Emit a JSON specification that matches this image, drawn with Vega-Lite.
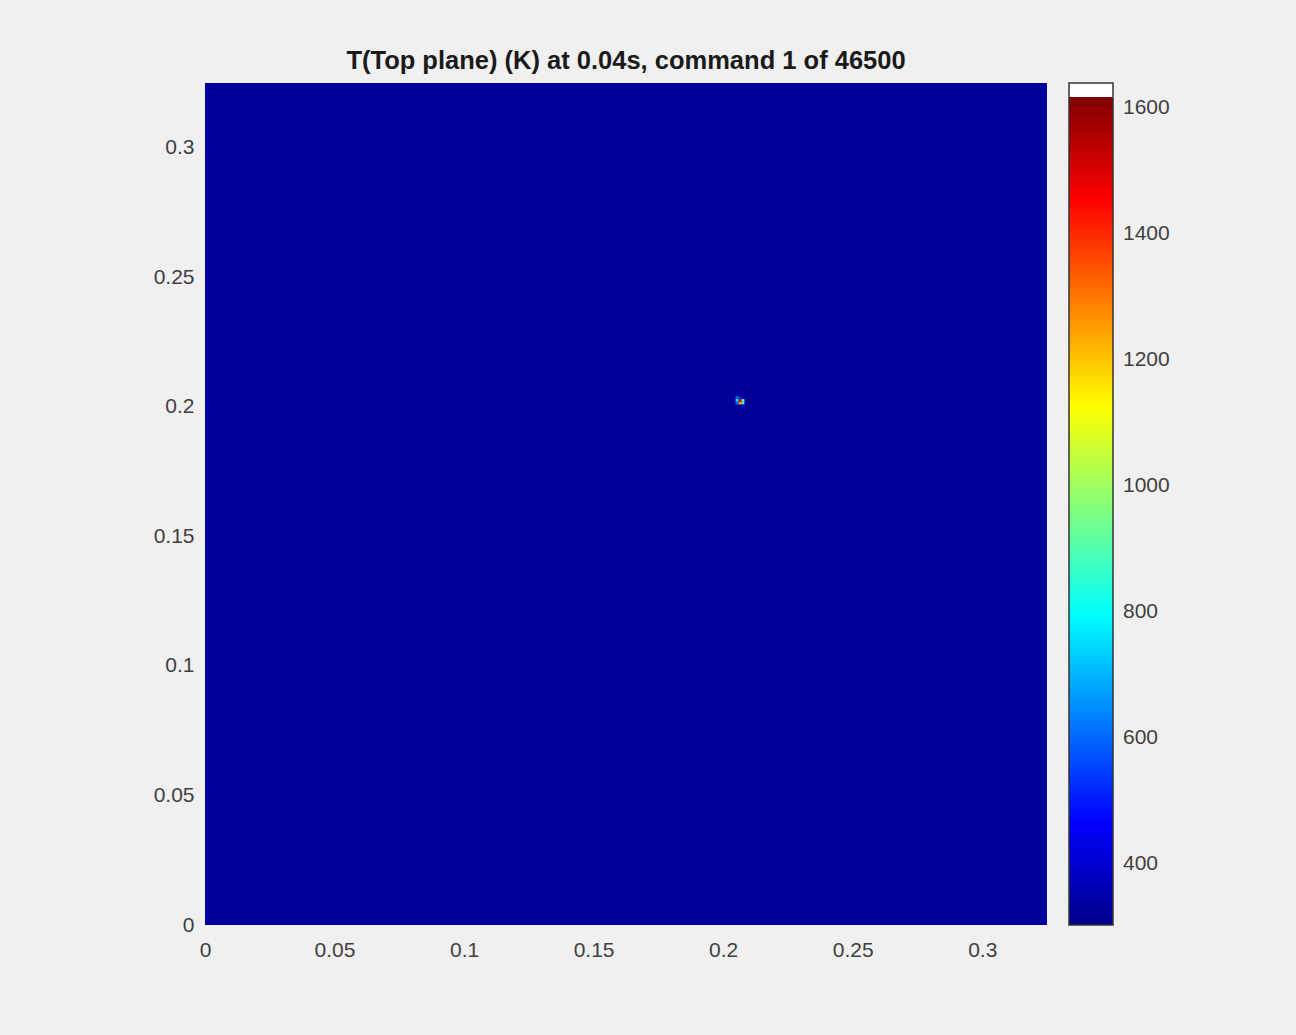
{
  "$schema": "https://vega.github.io/schema/vega-lite/v6.json",
  "autosize": {"type": "none"},
  "padding": {"left": 205, "top": 83, "right": 249, "bottom": 110},
  "width": 842,
  "height": 842,
  "background": "#f0f0f0",
  "config": {"view": {"stroke": null}},
  "title": {
    "text": "T(Top plane) (K) at 0.04s, command 1 of 46500",
    "font": "Liberation Sans",
    "fontSize": 25.5,
    "fontWeight": "bold",
    "color": "#1a1a1a",
    "anchor": "middle",
    "offset": 9
  },
  "data": {
    "values": [
      {"x0": 0, "x1": 0.325, "y0": 0, "y1": 0.325, "T": 324},
      {"x0": 0.2048, "x1": 0.2060, "y0": 0.2030, "y1": 0.2041, "T": 560},
      {"x0": 0.2060, "x1": 0.2071, "y0": 0.2030, "y1": 0.2041, "T": 480},
      {"x0": 0.2048, "x1": 0.2060, "y0": 0.2020, "y1": 0.2030, "T": 780},
      {"x0": 0.2060, "x1": 0.2071, "y0": 0.2020, "y1": 0.2030, "T": 1500},
      {"x0": 0.2071, "x1": 0.2082, "y0": 0.2020, "y1": 0.2030, "T": 1000},
      {"x0": 0.2048, "x1": 0.2060, "y0": 0.2009, "y1": 0.2020, "T": 540},
      {"x0": 0.2060, "x1": 0.2071, "y0": 0.2009, "y1": 0.2020, "T": 1300},
      {"x0": 0.2071, "x1": 0.2082, "y0": 0.2009, "y1": 0.2020, "T": 950},
      {"x0": 0.2071, "x1": 0.2082, "y0": 0.1998, "y1": 0.2009, "T": 450}
    ]
  },
  "mark": {"type": "rect"},
  "encoding": {
    "x": {
      "field": "x0", "type": "quantitative",
      "scale": {"domain": [0, 0.325], "nice": false, "zero": false},
      "axis": {
        "title": null, "values": [0, 0.05, 0.1, 0.15, 0.2, 0.25, 0.3], "format": "~g",
        "grid": false, "domain": false, "ticks": false, "tickSize": 0,
        "labelPadding": 14, "labelFont": "Liberation Sans", "labelFontSize": 21,
        "labelColor": "#404040", "labelFlush": false
      }
    },
    "x2": {"field": "x1"},
    "y": {
      "field": "y0", "type": "quantitative",
      "scale": {"domain": [0, 0.325], "nice": false, "zero": false},
      "axis": {
        "title": null, "values": [0, 0.05, 0.1, 0.15, 0.2, 0.25, 0.3], "format": "~g",
        "grid": false, "domain": false, "ticks": false, "tickSize": 0,
        "labelPadding": 11, "labelFont": "Liberation Sans", "labelFontSize": 21,
        "labelColor": "#404040", "labelFlush": false
      }
    },
    "y2": {"field": "y1"},
    "color": {
      "field": "T", "type": "quantitative",
      "scale": {
        "type": "linear",
        "domain": [303, 467, 796, 1125, 1454, 1618, 1619, 1640],
        "range": ["#00008a", "#0000ff", "#00ffff", "#ffff00", "#ff0000", "#800000", "#ffffff", "#ffffff"],
        "clamp": true
      },
      "legend": {
        "title": null,
        "orient": "none",
        "legendX": 864,
        "legendY": 0,
        "direction": "vertical",
        "gradientLength": 842,
        "gradientThickness": 44,
        "gradientStrokeColor": "#333333",
        "gradientStrokeWidth": 1.5,
        "values": [400, 600, 800, 1000, 1200, 1400, 1600],
        "format": "d",
        "labelFont": "Liberation Sans",
        "labelFontSize": 21,
        "labelColor": "#404040",
        "labelOffset": 10,
        "labelOverlap": false,
        "encode": {
          "gradient": {
            "update": {
              "fill": {
                "value": {
                  "gradient": "linear", "x1": 0, "y1": 1, "x2": 0, "y2": 0,
                  "stops": [
                    {"offset": 0, "color": "#00008a"},
                    {"offset": 0.1227, "color": "#0000ff"},
                    {"offset": 0.3687, "color": "#00ffff"},
                    {"offset": 0.6148, "color": "#ffff00"},
                    {"offset": 0.8609, "color": "#ff0000"},
                    {"offset": 0.9835, "color": "#800000"},
                    {"offset": 0.9836, "color": "#ffffff"},
                    {"offset": 1, "color": "#ffffff"}
                  ]
                }
              }
            }
          }
        }
      }
    }
  }
}
